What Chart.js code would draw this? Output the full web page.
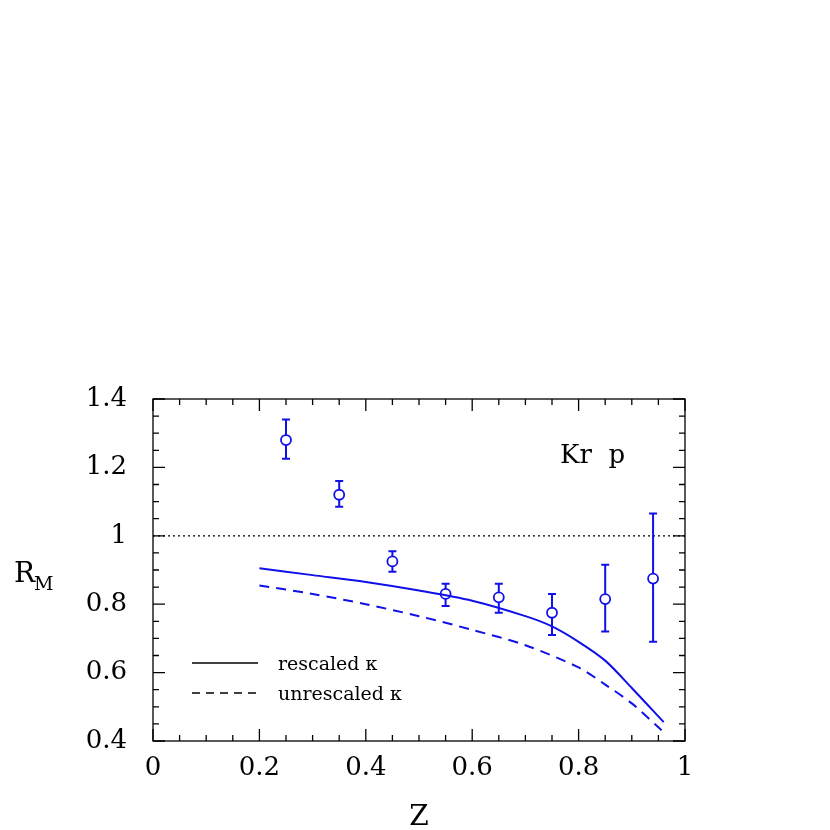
<!DOCTYPE html><html><head><meta charset="utf-8">
<script src="https://cdn.jsdelivr.net/npm/chart.js@4"></script>
<style>body{margin:0;background:#fff}</style></head><body>
<canvas id="c" width="830" height="830"></canvas>
<script>
const dataZ=[0.25,0.35,0.45,0.55,0.65,0.75,0.85,0.94];
const dataR=[1.28,1.12,0.925,0.83,0.82,0.775,0.815,0.875];
const errLo=[1.225,1.085,0.895,0.795,0.775,0.71,0.72,0.69];
const errHi=[1.34,1.16,0.955,0.86,0.86,0.83,0.915,1.065];
const solidZ=[0.2,0.3,0.4,0.5,0.6,0.7,0.75,0.8,0.85,0.9,0.96];
const solidR=[0.905,0.885,0.865,0.84,0.81,0.765,0.735,0.69,0.635,0.555,0.455];
const dashZ=[0.2,0.3,0.4,0.5,0.6,0.7,0.8,0.85,0.9,0.95,0.96];
const dashR=[0.855,0.83,0.8,0.765,0.725,0.68,0.615,0.565,0.51,0.44,0.425];
const xTicks=[0,0.2,0.4,0.6,0.8,1];
const yTicks=[0.4,0.6,0.8,1,1.2,1.4];
const BLUE='#1010e8',F='"DejaVu Serif", serif';
const pts=(a,b)=>a.map((v,i)=>({x:v,y:b[i]}));
const deco={id:'deco',afterDraw(ch){
 const c=ch.ctx,x=ch.scales.x,y=ch.scales.y,a=ch.chartArea;
 c.save();c.strokeStyle='#000';c.lineWidth=1.3;
 c.strokeRect(a.left,a.top,a.right-a.left,a.bottom-a.top);
 for(let i=0;i<=20;i++){const v=i*0.05,px=x.getPixelForValue(v),L=(i%4==0)?12:6;
  c.beginPath();c.moveTo(px,a.bottom);c.lineTo(px,a.bottom-L);c.moveTo(px,a.top);c.lineTo(px,a.top+L);c.stroke();}
 for(let i=0;i<=20;i++){const v=0.4+i*0.05,py=y.getPixelForValue(v),L=(i%4==0)?12:6;
  c.beginPath();c.moveTo(a.left,py);c.lineTo(a.left+L,py);c.moveTo(a.right,py);c.lineTo(a.right-L,py);c.stroke();}
 c.strokeStyle=BLUE;c.lineWidth=2;
 dataZ.forEach((z,i)=>{const px=x.getPixelForValue(z),lo=y.getPixelForValue(errLo[i]),hi=y.getPixelForValue(errHi[i]),py=y.getPixelForValue(dataR[i]);
  c.beginPath();c.moveTo(px,lo);c.lineTo(px,py+5);c.moveTo(px,py-5);c.lineTo(px,hi);
  c.moveTo(px-4,lo);c.lineTo(px+4,lo);c.moveTo(px-4,hi);c.lineTo(px+4,hi);c.stroke();});
 c.fillStyle='#000';c.font='28px '+F;c.textAlign='center';c.textBaseline='alphabetic';
 c.fillText('Z',(a.left+a.right)/2,825);
 c.textAlign='left';c.fillText('R',14,582);c.font='19px '+F;c.fillText('M',34,590);
 c.font='26px '+F;c.fillText('Kr  p',560,463);
 c.strokeStyle='#000';c.lineWidth=1.5;
 c.beginPath();c.moveTo(192,663);c.lineTo(258,663);c.stroke();
 c.setLineDash([8,6]);c.beginPath();c.moveTo(192,693);c.lineTo(258,693);c.stroke();c.setLineDash([]);
 c.font='19px '+F;c.fillText('rescaled κ',278,670);c.fillText('unrescaled κ',278,700);
 c.restore();}};
new Chart(document.getElementById('c'),{type:'scatter',
 data:{datasets:[
  {data:pts(solidZ,solidR),showLine:true,borderColor:BLUE,borderWidth:2,pointRadius:0,tension:0.3},
  {data:pts(dashZ,dashR),showLine:true,borderColor:BLUE,borderWidth:2,borderDash:[10,7],pointRadius:0,tension:0.3},
  {data:[{x:0,y:1},{x:1,y:1}],showLine:true,borderColor:'#000',borderWidth:1.3,borderDash:[2,3],pointRadius:0},
  {data:pts(dataZ,dataR),pointRadius:5,pointBorderColor:BLUE,pointBackgroundColor:'rgba(0,0,0,0)',pointBorderWidth:1.8}
 ]},
 options:{responsive:false,animation:false,layout:{padding:{top:399,right:145,left:0,bottom:0}},
  plugins:{legend:{display:false},tooltip:{enabled:false}},
  scales:{
   x:{type:'linear',min:0,max:1,grid:{display:false},border:{display:false},
    afterBuildTicks:s=>{s.ticks=xTicks.map(v=>({value:v}))},
    afterFit:s=>{s.height=89},
    ticks:{color:'#000',font:{family:F,size:26},padding:4,callback:v=>String(v)}},
   y:{type:'linear',min:0.4,max:1.4,grid:{display:false},border:{display:false},
    afterBuildTicks:s=>{s.ticks=yTicks.map(v=>({value:v}))},
    afterFit:s=>{s.width=153},
    ticks:{color:'#000',font:{family:F,size:26},padding:18,callback:v=>String(Math.round(v*10)/10)}}
  }},
 plugins:[deco]});
</script></body></html>
